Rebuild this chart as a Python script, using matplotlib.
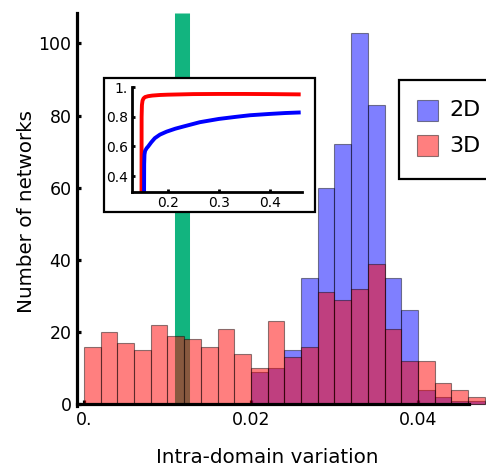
import matplotlib
matplotlib.use("Agg")
import matplotlib.pyplot as plt
from matplotlib.patches import Rectangle
import numpy as np

plt.rcParams['font.family'] = ['DejaVu Sans']

# histogram bins: width 0.002 starting at 0
bin_width = 0.002
bin_left = np.arange(24) * bin_width
counts_2d = [0, 0, 0, 0, 0, 0, 0, 0, 0, 0, 9, 10, 15, 35, 60, 72, 103, 83, 35, 26, 4, 2, 1, 1]
counts_3d = [16, 20, 17, 15, 22, 19, 18, 16, 21, 14, 10, 23, 13, 16, 31, 29, 32, 39, 21, 12, 12, 6, 4, 2]

# vertical marker band
marker_x = 0.0117
marker_width = 0.0018

# inset curves
inset_x_3d = [0.1490, 0.1492, 0.1498, 0.1510, 0.1530, 0.1560, 0.1620, 0.1700, 0.1850, 0.2000,
              0.2500, 0.3000, 0.3500, 0.4000, 0.4600]
inset_y_3d = [0.290, 0.800, 0.880, 0.910, 0.925, 0.934, 0.940, 0.944, 0.948, 0.950,
              0.954, 0.955, 0.955, 0.954, 0.952]
inset_x_2d = [0.1540, 0.1542, 0.1548, 0.1560, 0.1590, 0.1620, 0.1680, 0.1750, 0.1850, 0.1980,
              0.2150, 0.2300, 0.2630, 0.3000, 0.3330, 0.3610, 0.4000, 0.4300, 0.4600]
inset_y_2d = [0.290, 0.480, 0.545, 0.570, 0.588, 0.600, 0.628, 0.656, 0.680, 0.700,
              0.720, 0.734, 0.764, 0.786, 0.800, 0.811, 0.820, 0.826, 0.830]

W, H = 486, 468
fig = plt.figure(figsize=(W / 100, H / 100), dpi=100)

def fx(px):
    return px / W

def fy(py):
    return 1 - py / H

ax = fig.add_axes([fx(77), fy(406), fx(469) - fx(77), fy(12.7) - fy(406)])
ax.set_xlim(-0.000838, 0.04611)
ax.set_ylim(-0.47, 108.5)

green = '#12b47f'
ax.vlines(marker_x, 0, 108.5, colors=green, linewidth=marker_width * 8350 * 0.72, zorder=1)

edge = (0, 0, 0, 0.45)
ax.bar(bin_left, counts_2d, width=bin_width, align='edge', color=(0, 0, 1, 0.5),
       edgecolor=edge, linewidth=0.8, clip_on=False, zorder=2)
ax.bar(bin_left, counts_3d, width=bin_width, align='edge', color=(1, 0, 0, 0.5),
       edgecolor=edge, linewidth=0.8, clip_on=False, zorder=3)

for s in ['top', 'right']:
    ax.spines[s].set_visible(False)
ax.spines['left'].set_linewidth(2.3)
ax.spines['bottom'].set_linewidth(2.3)
ax.spines['bottom'].set_position(('data', 0))
ax.spines['bottom'].set_zorder(5)
ax.spines['left'].set_zorder(5)

ax.set_xticks([0, 0.02, 0.04])
ax.set_xticklabels(['0.', '0.02', '0.04'])
ax.set_yticks([0, 20, 40, 60, 80, 100])
ax.tick_params(direction='in', length=3, width=2.3, labelsize=12.5, pad=5)
ax.tick_params(axis='y', pad=4)
ax.set_xlabel('Intra-domain variation', fontsize=14.3)
ax.set_ylabel('Number of networks', fontsize=14.3)
ax.xaxis.set_label_coords(0.486, -0.108)
ax.yaxis.set_label_coords(-0.105, 0.494)
ax.patch.set_alpha(0)

# inset frame
fig.add_artist(Rectangle((fx(103.5), fy(212)), fx(315) - fx(103.5), fy(77.5) - fy(212),
                         transform=fig.transFigure, facecolor='white', edgecolor='black',
                         linewidth=1.6, zorder=1))

ins = fig.add_axes([fx(132.3), fy(191.7), fx(301.7) - fx(132.3), fy(86.7) - fy(191.7)])
ins.set_zorder(3)
ins.patch.set_alpha(0)
ins.plot(inset_x_3d, inset_y_3d, color='red', linewidth=2.8, solid_capstyle='butt')
ins.plot(inset_x_2d, inset_y_2d, color='blue', linewidth=2.8, solid_capstyle='butt')
ins.set_xlim(0.131, 0.462)
ins.set_ylim(0.294, 1.004)
for s in ['top', 'right']:
    ins.spines[s].set_visible(False)
ins.spines['left'].set_linewidth(2.0)
ins.spines['bottom'].set_linewidth(2.0)
ins.set_xticks([0.2, 0.3, 0.4])
ins.set_xticklabels(['0.2', '0.3', '0.4'])
ins.set_yticks([0.4, 0.6, 0.8, 1.0])
ins.set_yticklabels(['0.4', '0.6', '0.8', '1.'])
ins.tick_params(direction='in', length=2.5, width=2.0, labelsize=10, pad=3)

# legend
fig.add_artist(Rectangle((fx(399), fy(179.3)), fx(520) - fx(399), fy(80.3) - fy(179.3),
                         transform=fig.transFigure, facecolor='white', edgecolor='black',
                         linewidth=1.6, zorder=1, clip_on=False))
for label, fc, top in [('2D', (0, 0, 1, 0.5), 100), ('3D', (1, 0, 0, 0.5), 135)]:
    fig.add_artist(Rectangle((fx(416.7), fy(top + 21)), fx(21), fy(0) - fy(21),
                             transform=fig.transFigure, facecolor=fc,
                             edgecolor=(0, 0, 0, 0.45), linewidth=0.8, zorder=2))
    fig.text(fx(449), fy(top + 10.5), label, fontsize=16, va='center', ha='left', zorder=2)

fig.savefig('out.png', dpi=100)
